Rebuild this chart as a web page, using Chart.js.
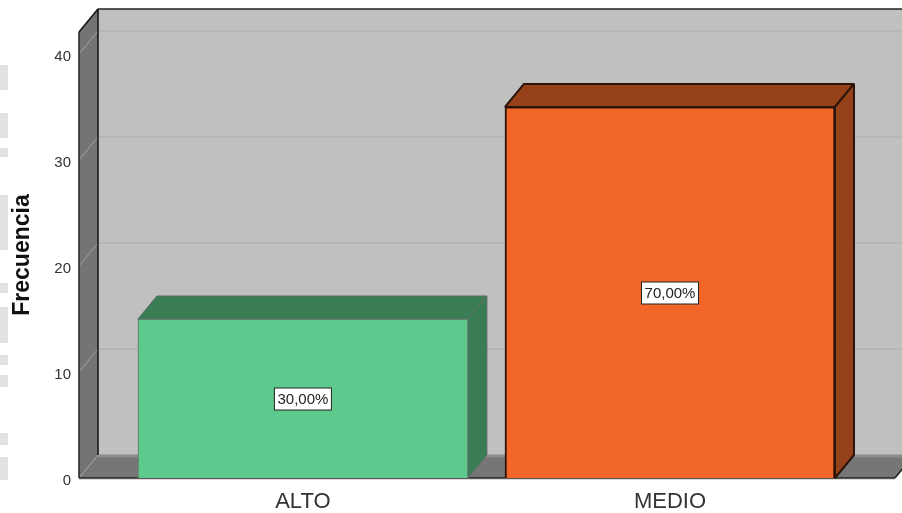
<!DOCTYPE html>
<html>
<head>
<meta charset="utf-8">
<style>
html, body { margin: 0; padding: 0; background: #fff; }
#wrap { width: 902px; height: 513px; }
</style>
<script src="https://cdn.jsdelivr.net/npm/chart.js@4"></script>
</head>
<body>
<div id="wrap"><canvas id="chart"></canvas></div>
<script>
const categories = ["ALTO", "MEDIO"];
const frecuencia = [15, 35];
const porcentajes = ["30,00%", "70,00%"];
const barColors = ["#5DC98C", "#F3662A"];
const barBorders = ["#5f6f66", "#2b1409"];
const barBorderWidths = [1, 2];
const barTops = ["#3A7D55", "#95421A"];
const barSides = ["#3A7D55", "#95421A"];

// fake 3D depth of the box, in px
const dx = 19;
const dy = 23;

function poly(ctx, pts, fill, stroke, width) {
    ctx.beginPath();
    pts.forEach((p, i) => i ? ctx.lineTo(p[0], p[1]) : ctx.moveTo(p[0], p[1]));
    ctx.closePath();
    if (fill) { ctx.fillStyle = fill; ctx.fill(); }
    if (stroke) { ctx.strokeStyle = stroke; ctx.lineWidth = width || 1; ctx.lineJoin = "bevel"; ctx.stroke(); }
}

function line(ctx, x1, y1, x2, y2, color, width) {
    ctx.beginPath();
    ctx.moveTo(x1, y1);
    ctx.lineTo(x2, y2);
    ctx.strokeStyle = color;
    ctx.lineWidth = width;
    ctx.stroke();
}

const boxPlugin = {
    id: "box3d",
    beforeDatasetsDraw(chart) {
        const { ctx, chartArea: a, scales } = chart;
        const L = a.left, R = a.right, T = a.top, B = a.bottom;
        ctx.save();

        // back wall
        poly(ctx, [[L + dx, T - dy], [R + dx, T - dy], [R + dx, B - dy], [L + dx, B - dy]], "#C0C0C0");
        // side wall and floor
        poly(ctx, [[L, T], [L + dx, T - dy], [L + dx, B - dy], [L, B]], "#747474");
        poly(ctx, [[L, B], [L + dx, B - dy], [R + dx, B - dy], [R, B]], "#767676");
        line(ctx, L + dx, B - dy + 1, R + dx, B - dy + 1, "#8c8c8c", 3);

        // gridlines follow the value scale
        scales.y.ticks.forEach((t) => {
            const y = scales.y.getPixelForValue(t.value);
            line(ctx, L, y, L + dx, y - dy, "#a3a3a3", 1);
            if (t.value > 0) line(ctx, L + dx, y - dy, R + dx, y - dy, "#b5b5b5", 2);
        });

        // outlines
        line(ctx, L + dx, T - dy, R + dx, T - dy, "#222", 1.5);
        line(ctx, L + dx, T - dy, L + dx, B - dy, "#111", 1.5);
        line(ctx, L, T, L + dx, T - dy, "#111", 1.5);
        line(ctx, L, T, L, B, "#222", 1.5);
        line(ctx, L, B, R, B, "#222", 1.5);
        line(ctx, R, B, R + dx, B - dy, "#222", 1.5);
        line(ctx, L, B + 1.5, R, B + 1.5, "#d8d8d8", 1);

        // cut off watermark on the left edge
        ctx.fillStyle = "#e2e2e2";
        [[65, 25], [113, 25], [148, 9], [195, 55], [283, 10], [307, 36], [355, 10], [375, 12], [433, 12], [457, 23]]
            .forEach((s) => ctx.fillRect(0, s[0], 8, s[1]));

        // top and side faces of the bars, behind the front face
        chart.getDatasetMeta(0).data.forEach((bar, i) => {
            const l = bar.x - bar.width / 2, r = bar.x + bar.width / 2;
            const t = bar.y, b = bar.base;
            poly(ctx, [[l, t], [l + dx, t - dy], [r + dx, t - dy], [r, t]], barTops[i], barBorders[i], barBorderWidths[i]);
            poly(ctx, [[r, t], [r + dx, t - dy], [r + dx, b - dy], [r, b]], barSides[i], barBorders[i], barBorderWidths[i]);
        });
        ctx.restore();
    },
    afterDatasetsDraw(chart) {
        const { ctx } = chart;
        ctx.save();
        ctx.font = "15px 'Liberation Sans'";
        ctx.textAlign = "center";
        ctx.textBaseline = "middle";
        chart.getDatasetMeta(0).data.forEach((bar, i) => {
            const y = Math.round((bar.y + bar.base) / 2) + 1;
            const w = Math.round(ctx.measureText(porcentajes[i]).width) + 6;
            ctx.fillStyle = "#fff";
            ctx.strokeStyle = "#222";
            ctx.lineWidth = 1;
            ctx.fillRect(bar.x - w / 2, y - 11, w, 22);
            ctx.strokeRect(bar.x - w / 2, y - 11, w, 22);
            ctx.fillStyle = "#222";
            ctx.fillText(porcentajes[i], bar.x, y + 0.5);
        });
        ctx.restore();
    }
};

new Chart(document.getElementById("chart"), {
    type: "bar",
    data: {
        datasets: [{
            label: "Frecuencia",
            data: frecuencia.map((v, i) => ({ x: i, y: v })),
            backgroundColor: barColors,
            borderColor: barBorders,
            borderWidth: barBorderWidths,
            barThickness: 330
        }]
    },
    options: {
        responsive: true,
        maintainAspectRatio: false,
        animation: false,
        layout: { padding: { top: 32, right: 7, left: 0, bottom: 0 } },
        plugins: { legend: { display: false }, tooltip: { enabled: false } },
        scales: {
            x: {
                type: "linear",
                offset: false,
                min: -0.61,
                max: 1.613,
                grid: { display: false, drawTicks: false },
                border: { display: false },
                afterFit: (s) => { s.height = 35; },
                ticks: {
                    stepSize: 1,
                    includeBounds: false,
                    autoSkip: false,
                    maxRotation: 0,
                    padding: 11,
                    color: "#333",
                    font: { family: "'Liberation Sans'", size: 22 },
                    callback: (v) => categories[v]
                }
            },
            y: {
                min: 0,
                max: 42.07,
                grid: { display: false, drawTicks: false },
                border: { display: false },
                afterFit: (s) => { s.width = 79; },
                title: {
                    display: true,
                    text: "Frecuencia",
                    color: "#111",
                    padding: { top: 9, bottom: 0 },
                    font: { family: "'Liberation Sans'", size: 23, weight: "bold" }
                },
                ticks: {
                    stepSize: 10,
                    includeBounds: false,
                    padding: 8,
                    labelOffset: 3,
                    color: "#333",
                    font: { family: "'Liberation Sans'", size: 15 }
                }
            }
        }
    },
    plugins: [boxPlugin]
});
</script>
</body>
</html>
